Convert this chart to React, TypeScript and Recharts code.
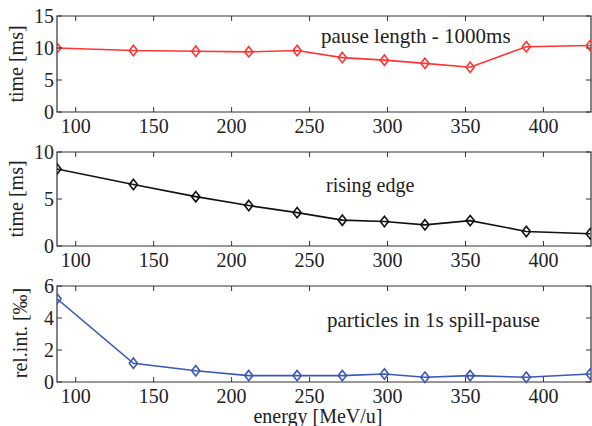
import React from 'react';
import { LineChart, Line, XAxis, YAxis, ReferenceArea } from 'recharts';

const energy = [88, 137, 177, 211, 242, 271, 298, 324, 353, 389, 430];
const pauseLength = [10.0, 9.6, 9.5, 9.4, 9.6, 8.5, 8.1, 7.6, 7.0, 10.2, 10.4];
const risingEdge = [8.2, 6.55, 5.25, 4.3, 3.55, 2.75, 2.6, 2.25, 2.7, 1.55, 1.3];
const particles = [5.2, 1.17, 0.7, 0.4, 0.4, 0.4, 0.5, 0.3, 0.4, 0.3, 0.5];
const xTicks = [100, 150, 200, 250, 300, 350, 400];
const yTicksPause = [0, 5, 10, 15];
const yTicksRising = [0, 5, 10];
const yTicksParticles = [0, 2, 4, 6];

const FONT = 'Liberation Serif';
const W = 592;
const LEFT = 57;
const RIGHT = 1;
const PLOT_W = W - LEFT - RIGHT;
const AXIS_COLOR = '#333';
const TEXT_COLOR = '#222';

const toRows = (ys: number[]) => energy.map((e, i) => ({ e, v: ys[i] }));

const Diamond = (props: any) => {
  const { cx, cy, stroke } = props;
  if (cx == null || cy == null) return null;
  const w = 4.1;
  const h = 5.2;
  return (
    <polygon
      points={`${cx},${cy - h} ${cx + w},${cy} ${cx},${cy + h} ${cx - w},${cy}`}
      fill="none"
      stroke={stroke}
      strokeWidth={1.6}
    />
  );
};

const makeXTick = (plotH: number) => (p: any) => {
  const { x, y, payload } = p;
  return (
    <g>
      <line x1={x} x2={x} y1={y} y2={y - 5} stroke={AXIS_COLOR} strokeWidth={1} />
      <line x1={x} x2={x} y1={y - plotH} y2={y - plotH + 5} stroke={AXIS_COLOR} strokeWidth={1} />
      <text x={x} y={y + 21} textAnchor="middle" fontFamily={FONT} fontSize={20} fill={TEXT_COLOR}>
        {payload.value}
      </text>
    </g>
  );
};

const YTick = (p: any) => {
  const { x, y, payload } = p;
  return (
    <g>
      <line x1={x} x2={x + 5} y1={y} y2={y} stroke={AXIS_COLOR} strokeWidth={1} />
      <line x1={x + PLOT_W - 5} x2={x + PLOT_W} y1={y} y2={y} stroke={AXIS_COLOR} strokeWidth={1} />
      <text x={x - 3} y={y + 7} textAnchor="end" fontFamily={FONT} fontSize={20} fill={TEXT_COLOR}>
        {payload.value}
      </text>
    </g>
  );
};

type PanelProps = {
  top: number;
  height: number;
  marginTop: number;
  xAxisHeight: number;
  values: number[];
  yMax: number;
  yTicks: number[];
  color: string;
};

const Panel = ({ top, height, marginTop, xAxisHeight, values, yMax, yTicks, color }: PanelProps) => {
  const plotH = height - marginTop - xAxisHeight;
  return (
    <div style={{ position: 'absolute', left: 0, top }}>
      <LineChart
        width={W}
        height={height}
        data={toRows(values)}
        margin={{ top: marginTop, right: RIGHT, left: 0, bottom: 0 }}
      >
        <XAxis
          dataKey="e"
          type="number"
          domain={[88, 430.5]}
          ticks={xTicks}
          allowDataOverflow
          height={xAxisHeight}
          axisLine={false}
          tickLine={false}
          tickSize={0}
          tickMargin={0}
          interval={0}
          tick={makeXTick(plotH)}
        />
        <YAxis
          type="number"
          domain={[0, yMax]}
          ticks={yTicks}
          width={LEFT}
          axisLine={false}
          tickLine={false}
          tickSize={0}
          tickMargin={0}
          interval={0}
          tick={(p: any) => <YTick {...p} />}
        />
        <ReferenceArea
          x1={88}
          x2={430.5}
          y1={0}
          y2={yMax}
          fill="none"
          fillOpacity={0}
          stroke={AXIS_COLOR}
          strokeWidth={1.2}
          ifOverflow="visible"
        />
        <Line
          type="linear"
          dataKey="v"
          stroke={color}
          strokeWidth={1.6}
          dot={(d: any) => <Diamond key={`d${d.index}`} {...d} stroke={color} />}
          isAnimationActive={false}
        />
      </LineChart>
    </div>
  );
};

export default function App() {
  return (
    <div style={{ position: 'absolute', left: 0, top: 0, width: W, height: 426, background: '#fff' }}>
      <Panel top={0} height={140} marginTop={16} xAxisHeight={28} values={pauseLength} yMax={15} yTicks={yTicksPause} color="#ff3535" />
      <Panel top={137} height={137} marginTop={15} xAxisHeight={28} values={risingEdge} yMax={10} yTicks={yTicksRising} color="#111111" />
      <Panel top={270} height={156} marginTop={16} xAxisHeight={44} values={particles} yMax={6} yTicks={yTicksParticles} color="#3a58b8" />
      <svg width={W} height={426} style={{ position: 'absolute', left: 0, top: 0, pointerEvents: 'none' }}>
        <g fontFamily={FONT} fontSize={20} fill={TEXT_COLOR}>
          <text x={321} y={43} fontSize={21}>pause length - 1000ms</text>
          <text x={326} y={192}>rising edge</text>
          <text x={327} y={327} fontSize={21}>particles in 1s spill-pause</text>
          <text x={318} y={423} textAnchor="middle">energy [MeV/u]</text>
          <text transform="translate(23,64) rotate(-90)" textAnchor="middle">time [ms]</text>
          <text transform="translate(23,199) rotate(-90)" textAnchor="middle">time [ms]</text>
          <text transform="translate(27,333) rotate(-90)" textAnchor="middle">rel.int.  [‰]</text>
        </g>
      </svg>
    </div>
  );
}
